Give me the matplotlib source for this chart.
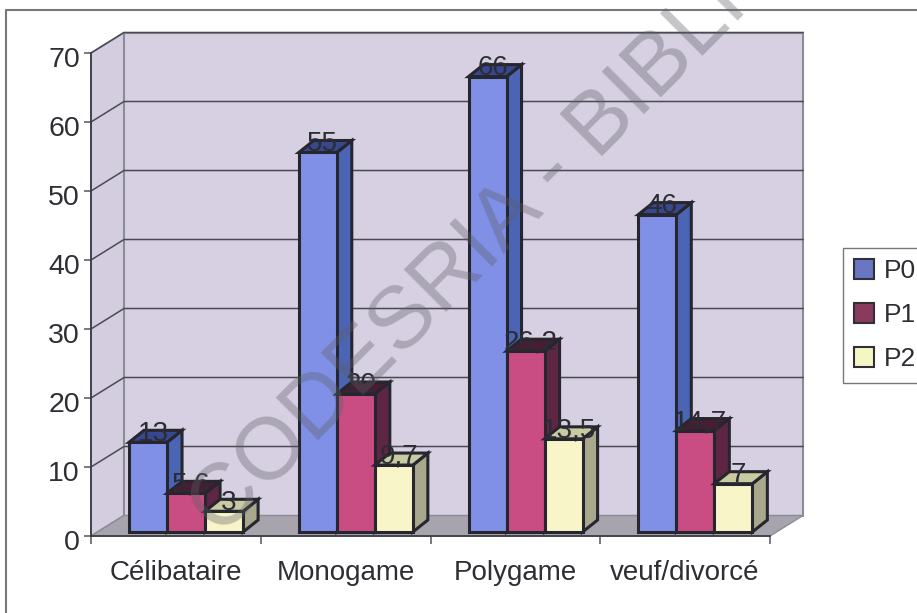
import matplotlib
matplotlib.use('Agg')
import matplotlib.pyplot as plt
from matplotlib.patches import Patch, Polygon
from matplotlib.lines import Line2D
from matplotlib.transforms import ScaledTranslation

plt.rcParams['font.family'] = ['Liberation Sans', 'DejaVu Sans']

categories = ['Célibataire', 'Monogame', 'Polygame', 'veuf/divorcé']
p0 = [13, 55, 66, 46]
p1 = [5.6, 20, 26.2, 14.7]
p2 = [3, 9.7, 13.5, 7]
series_names = ['P0', 'P1', 'P2']
yticks = [0, 10, 20, 30, 40, 50, 60, 70]

front_colors = ['#7f90e6', '#c94c82', '#f8f5c8']
side_colors = ['#4c64b4', '#5e2644', '#a9a78c']
top_colors = ['#38488e', '#4a1c34', '#c9c9a2']
legend_colors = ['#6a76c2', '#8a3a5c', '#f6f6c4']
edge = '#26262e'

W, H = 917, 613
fig = plt.figure(figsize=(W / 100, H / 100), dpi=100, facecolor='white')
ax = fig.add_axes([91 / W, (H - 536) / H, 679 / W, 483 / H])
ax.set_xlim(0, 4)
ax.set_ylim(0, 70)
ax.patch.set_visible(False)

# depth of the 3d box and of the bars, in data units
DX = 33 / 169.75
DY = 2.97
BAR_W = 0.224
BAR_DX = 15 / 169.75
BAR_DY = 1.74
BASE = 0.58

# walls and floor
ax.add_patch(Polygon([(0, 0), (DX, DY), (DX, 70 + DY), (0, 70)], fc='#d3cddf', ec='#8c8c96', lw=1.2, clip_on=False, zorder=1))
ax.add_patch(Polygon([(DX, DY), (4 + DX, DY), (4 + DX, 70 + DY), (DX, 70 + DY)], fc='#d7d0e2', ec='#8c8c96', lw=1.5, clip_on=False, zorder=1))
ax.add_patch(Polygon([(0, 0), (4, 0), (4 + DX, DY), (DX, DY)], fc='#a7a4ae', ec='#8c8c96', lw=1, clip_on=False, zorder=1.5))

for v in yticks[1:]:
    ax.plot([0, DX, 4 + DX], [v, v + DY, v + DY], color='#4a4a52', lw=1.1, clip_on=False, zorder=2)

# bars, left to right so each one covers the side of the previous one
z = 3
for i in range(len(categories)):
    for k, vals in enumerate([p0, p1, p2]):
        v = vals[i]
        x0 = i + BAR_W * (k + 1)
        x1 = x0 + BAR_W
        top = BASE + v
        ax.add_patch(Polygon([(x1, BASE), (x1 + BAR_DX, BASE + BAR_DY), (x1 + BAR_DX, top + BAR_DY), (x1, top)],
                             fc=side_colors[k], ec=edge, lw=2.2, clip_on=False, zorder=z))
        ax.add_patch(Polygon([(x0, top), (x0 + BAR_DX, top + BAR_DY), (x1 + BAR_DX, top + BAR_DY), (x1, top)],
                             fc=top_colors[k], ec=edge, lw=2.2, clip_on=False, zorder=z))
        ax.bar(x0, v, BAR_W, bottom=BASE, align='edge', color=front_colors[k], edgecolor=edge, lw=2.2, clip_on=False, zorder=z + 0.5)
        z += 1

# data labels go last, they sit on the top faces
for i in range(len(categories)):
    for k, vals in enumerate([p0, p1, p2]):
        v = vals[i]
        xc = i + BAR_W * (k + 1.5) + BAR_DX / 3
        ax.text(xc, BASE + v + BAR_DY - 0.5, f'{v:g}'.replace('.', ','), ha='center', va='center',
                fontsize=20, color='#2c2c34', clip_on=False, zorder=z + 1)

for s in ['top', 'right']:
    ax.spines[s].set_visible(False)
for s in ['left', 'bottom']:
    ax.spines[s].set_color('#3c3c44')
    ax.spines[s].set_linewidth(1.3)
    ax.spines[s].set_zorder(z + 1)

ax.set_yticks(yticks)
ax.set_xticks(range(len(categories) + 1))
ax.set_xticklabels([])
ax.set_xticks([i + 0.5 for i in range(len(categories))], minor=True)
ax.set_xticklabels(categories, minor=True)
ax.tick_params(axis='x', which='major', length=6, width=1.1, color='#55555c')
ax.tick_params(axis='x', which='minor', length=0, pad=17, labelsize=20, labelcolor='#2e2e34')
ax.tick_params(axis='y', length=5, width=1.1, pad=3, labelsize=20.5, color='#55555c', labelcolor='#2e2e34')

# y labels sit a little under their ticks in the reference
shift = ScaledTranslation(0, -3 / 72, fig.dpi_scale_trans)
for lab in ax.get_yticklabels():
    lab.set_transform(lab.get_transform() + shift)

handles = [Patch(fc=c, ec='#303038', lw=1.5) for c in legend_colors]
fig.legend(handles, series_names, loc='upper left', bbox_to_anchor=(843 / W, 1 - 248 / H),
           bbox_transform=fig.transFigure, fontsize=19, labelcolor='#2e2e34', fancybox=False, framealpha=1,
           edgecolor='#77777c', borderaxespad=0, borderpad=0.42, handlelength=0.75, handleheight=0.8,
           handletextpad=0.36, labelspacing=0.75)

# outer frame of the chart area, only top and left show on the scan
fig.add_artist(Line2D([6 / W, 6 / W, 1], [0, 1 - 10 / H, 1 - 10 / H], color='#77777c', lw=1.5))

# scanned watermark
fig.text(220 / W, (H - 538) / H, 'CODESRIA - BIBLI', rotation=45, rotation_mode='anchor', ha='left', va='baseline',
         fontsize=63.4, color='#5e5e68', alpha=0.36, zorder=50)

fig.savefig('out.png', dpi=100)
